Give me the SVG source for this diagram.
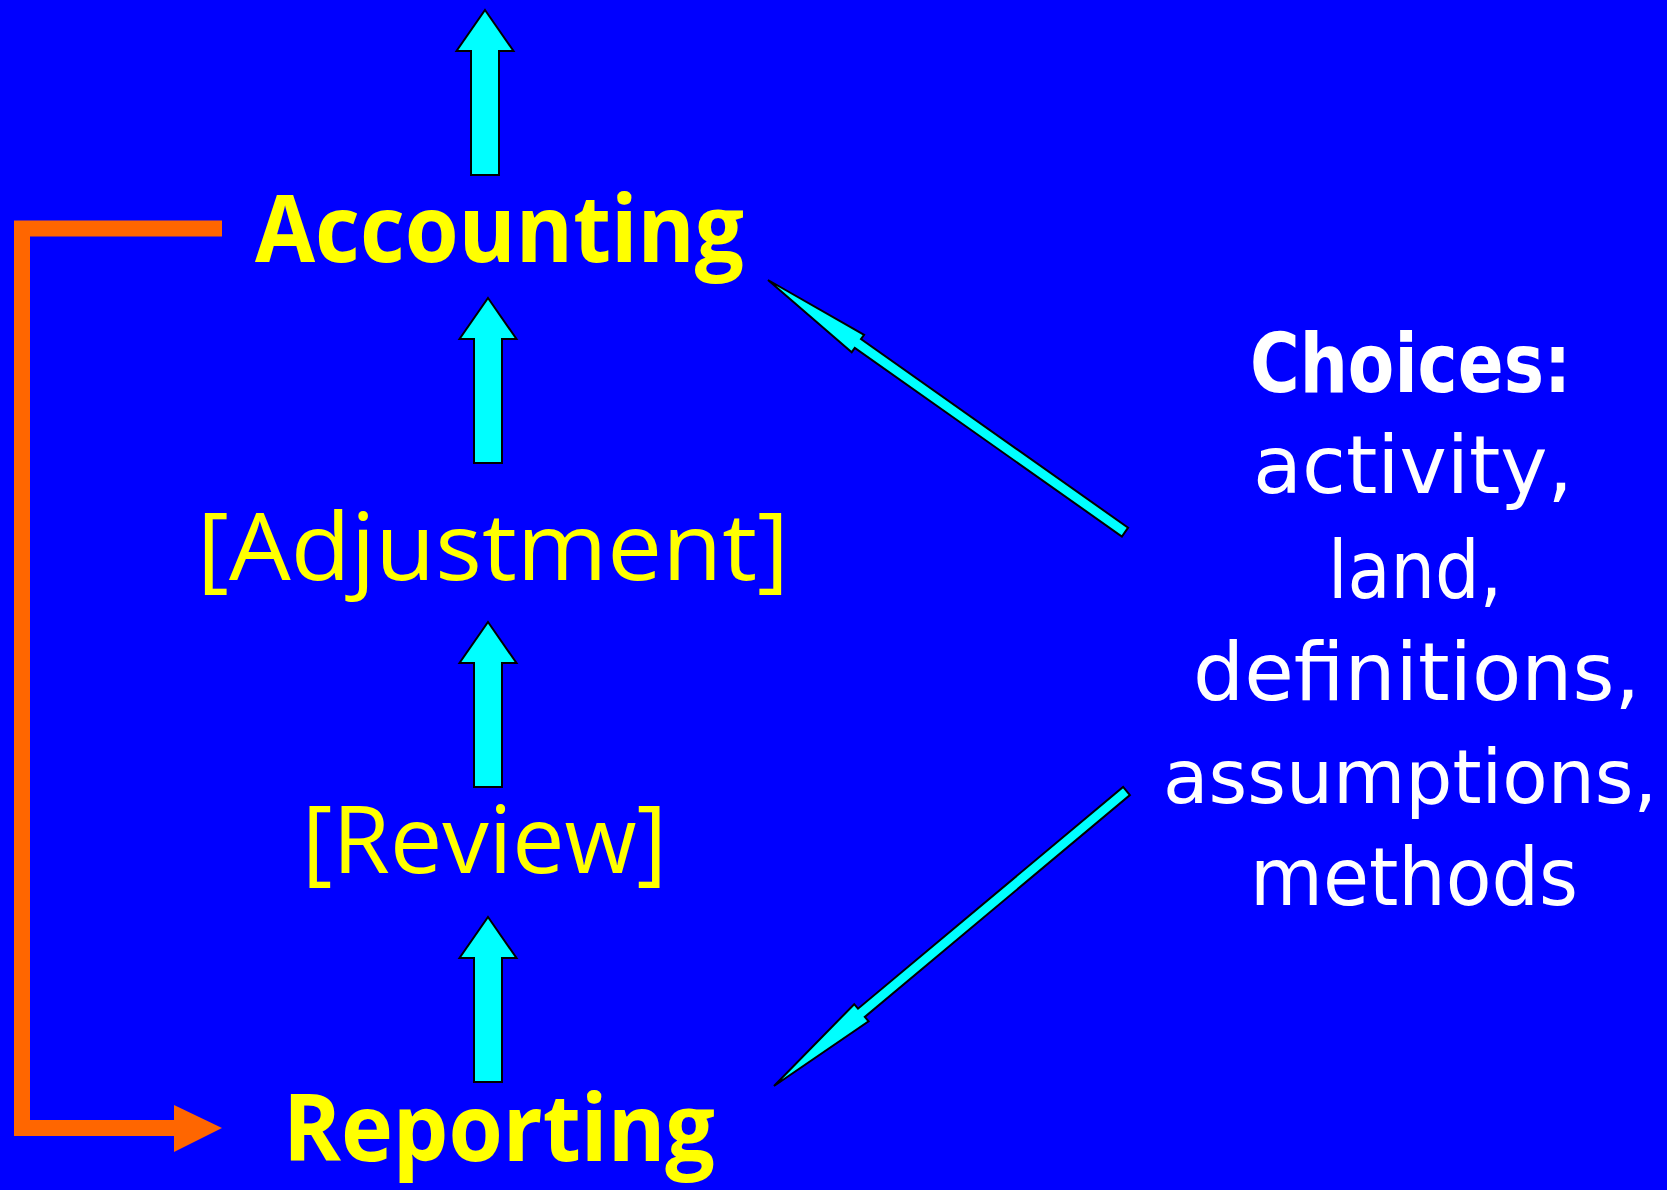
<svg xmlns="http://www.w3.org/2000/svg" xmlns:xlink="http://www.w3.org/1999/xlink" width="1667" height="1190" viewBox="0 0 1667 1190">
<defs>
<style>
.bold{font-family:"Open Sans","Noto Sans","DejaVu Sans",sans-serif;font-weight:bold;}
.reg{font-family:"Open Sans","Noto Sans","DejaVu Sans",sans-serif;font-weight:normal;}
.wbold{font-family:"DejaVu Sans","Liberation Sans",sans-serif;font-weight:bold;}
.wreg{font-family:"DejaVu Sans","Liberation Sans",sans-serif;font-weight:normal;}
.yel{fill:#FFFF00;}
.wht{fill:#FFFFFF;}
.cyan{fill:#00FFFF;stroke:#000000;stroke-width:2;stroke-linejoin:miter;}
.orange{fill:none;stroke:#FF6600;stroke-width:16;stroke-linejoin:miter;}
</style>
<path id="uparrow" d="M0,0 L28.5,41 L14,41 L14,165 L-14,165 L-14,41 L-28.5,41 Z"/>
</defs>
<rect x="0" y="0" width="1667" height="1190" fill="#0000FF"/>
<g id="connectors">
<use xlink:href="#uparrow" class="cyan" transform="translate(485,10)"/>
<use xlink:href="#uparrow" class="cyan" transform="translate(488,298)"/>
<use xlink:href="#uparrow" class="cyan" transform="translate(488,622)"/>
<use xlink:href="#uparrow" class="cyan" transform="translate(488,917)"/>
<polygon class="cyan" points="768,280 864.1,334.8 861.0,339.1 1128.1,527.7 1121.9,536.5 854.8,347.9 851.7,352.2"/>
<polygon class="cyan" points="774,1086 868.6,1021.4 864.8,1016.9 1129.9,795.1 1123.1,786.9 858.0,1008.7 854.2,1004.2"/>
<path class="orange" d="M222,228.5 H22 V1128 H176"/>
<polygon points="174,1105 222,1128 174,1152" fill="#FF6600"/>
</g>
<g id="accounting"><text class="bold yel" x="255" y="262" font-size="94" textLength="489" lengthAdjust="spacingAndGlyphs">Accounting</text></g>
<g id="adjustment"><text class="reg yel" x="197" y="580" font-size="94" textLength="592" lengthAdjust="spacingAndGlyphs">[Adjustment]</text></g>
<g id="review"><text class="reg yel" x="302" y="873" font-size="94" textLength="365" lengthAdjust="spacingAndGlyphs">[Review]</text></g>
<g id="reporting"><text class="bold yel" x="283" y="1161" font-size="94" textLength="432" lengthAdjust="spacingAndGlyphs">Reporting</text></g>
<g id="choices">
<text class="wbold wht" x="1250" y="392" font-size="82" textLength="321" lengthAdjust="spacingAndGlyphs">Choices:</text>
<text class="wreg wht" x="1253" y="493" font-size="80" textLength="320" lengthAdjust="spacingAndGlyphs">activity,</text>
<text class="wreg wht" x="1328" y="598" font-size="80" textLength="174" lengthAdjust="spacingAndGlyphs">land,</text>
<text class="wreg wht" x="1193" y="700" font-size="80" textLength="447" lengthAdjust="spacingAndGlyphs">definitions,</text>
<text class="wreg wht" x="1163" y="803" font-size="75" textLength="494" lengthAdjust="spacingAndGlyphs">assumptions,</text>
<text class="wreg wht" x="1250" y="905" font-size="80" textLength="328" lengthAdjust="spacingAndGlyphs">methods</text>
</g>
</svg>
